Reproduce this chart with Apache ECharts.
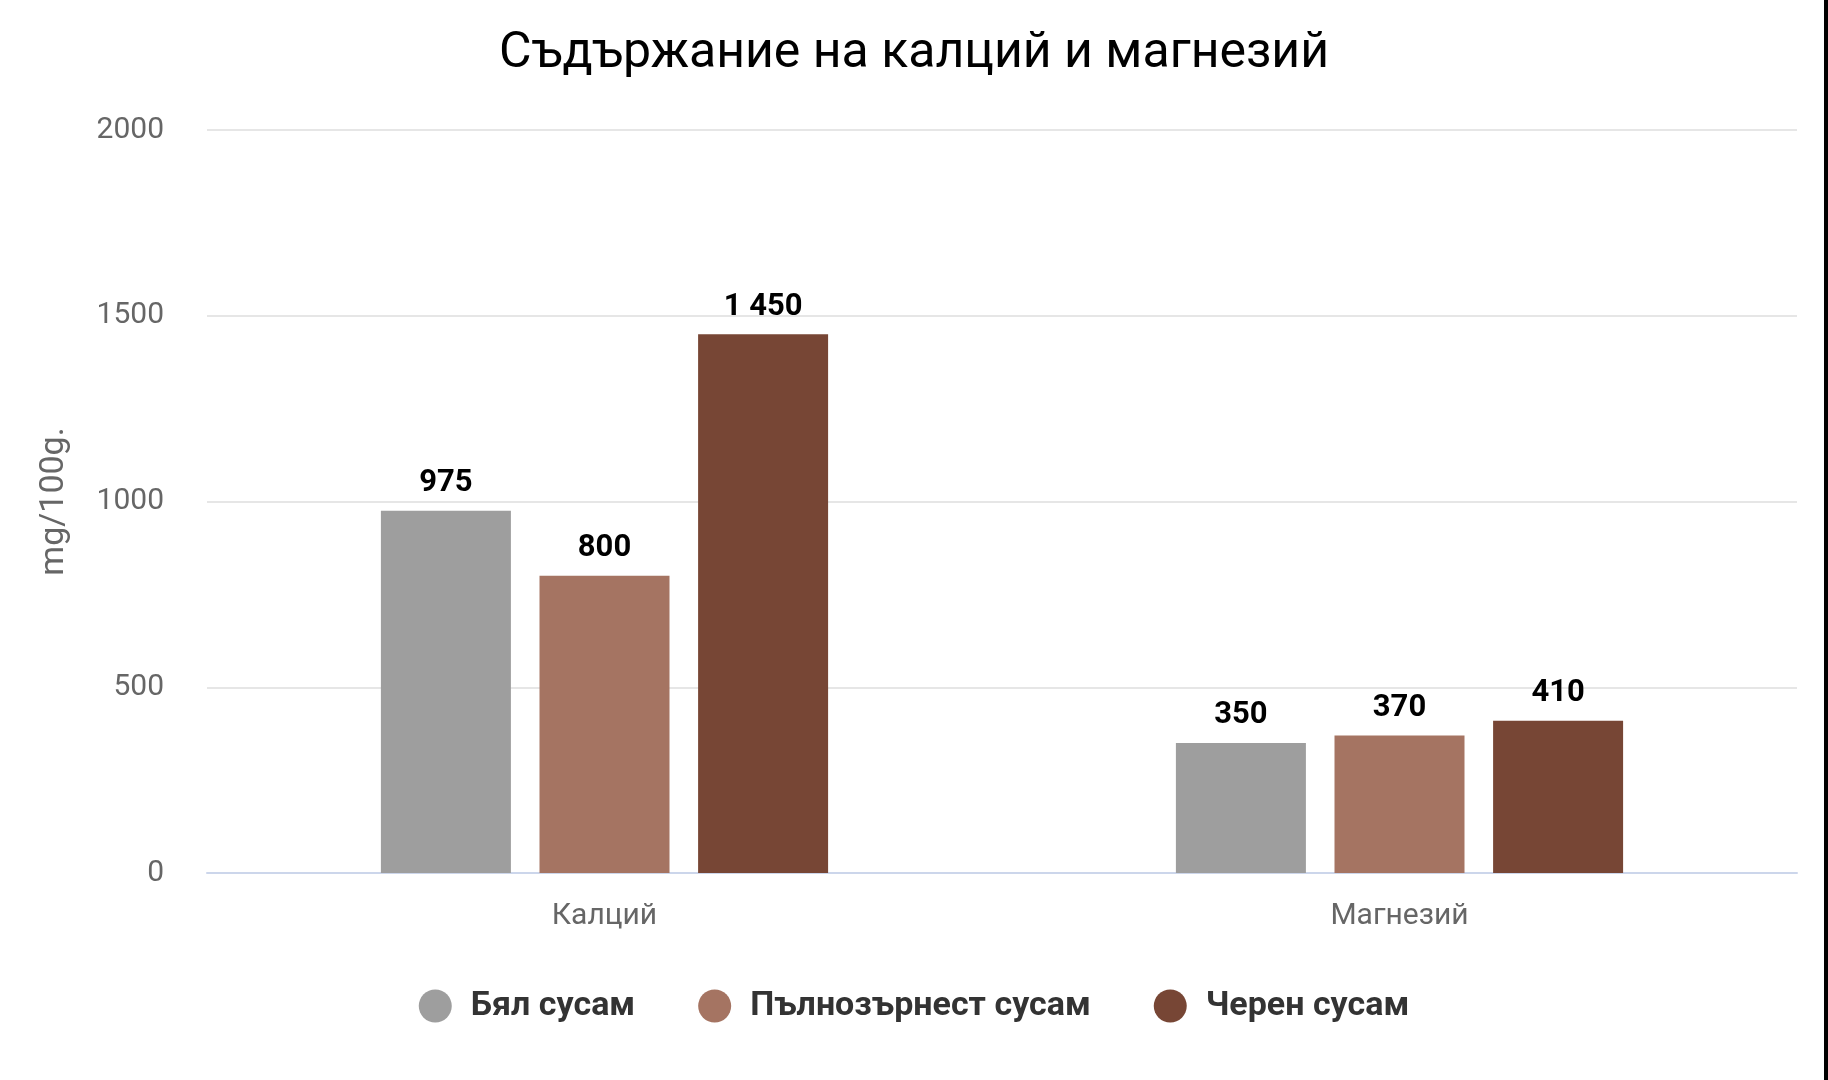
<!DOCTYPE html>
<html>
<head>
<meta charset="utf-8">
<script src="https://cdn.jsdelivr.net/npm/echarts@6/dist/echarts.min.js"></script>
<style>
    html, body { margin: 0; padding: 0; background: #ffffff; }
    #chart { width: 1828px; height: 1080px; }
</style>
</head>
<body>
<div id="chart"></div>
<script>
    // данни
    const categories = ['Калций', 'Магнезий'];
    const seriesNames = ['Бял сусам', 'Пълнозърнест сусам', 'Черен сусам'];
    const whiteSesame = [975, 350];
    const wholeSesame = [800, 370];
    const blackSesame = [1450, 410];
    const yTicks = [0, 500, 1000, 1500, 2000];
    const colors = ['#9e9e9e', '#a57462', '#774635'];

    const chart = echarts.init(document.getElementById('chart'));

    function fmt(v) {
        return String(v).replace(/\B(?=(\d{3})+(?!\d))/g, ' ');
    }

    const values = [whiteSesame, wholeSesame, blackSesame];

    const option = {
        backgroundColor: '#ffffff',
        animation: false,
        title: {
            text: 'Съдържание на калций и магнезий',
            left: 'center',
            top: 24,
            textStyle: {
                fontFamily: 'Roboto',
                fontSize: 50,
                fontWeight: 'normal',
                color: '#000000'
            }
        },
        legend: {
            data: seriesNames,
            bottom: 52,
            left: 'center',
            icon: 'circle',
            itemWidth: 33,
            itemHeight: 33,
            itemGap: 63,
            textStyle: {
                fontFamily: 'Roboto',
                fontSize: 34,
                fontWeight: 'bold',
                color: '#333333',
                padding: [0, 0, 0, 14]
            }
        },
        grid: {
            left: 207,
            right: 31,
            top: 130,
            bottom: 207,
            containLabel: false
        },
        xAxis: {
            type: 'category',
            data: categories,
            axisTick: { show: false },
            axisLine: { lineStyle: { color: '#ccd6eb', width: 2 } },
            axisLabel: {
                margin: 28,
                fontFamily: 'Roboto',
                fontSize: 30,
                color: '#666666'
            }
        },
        yAxis: {
            type: 'value',
            min: yTicks[0],
            max: yTicks[yTicks.length - 1],
            interval: 500,
            name: 'mg/100g.',
            nameLocation: 'middle',
            nameGap: 136,
            nameTextStyle: {
                fontFamily: 'Roboto',
                fontSize: 34,
                color: '#666666'
            },
            axisLabel: {
                margin: 43,
                fontFamily: 'Roboto',
                fontSize: 30,
                color: '#666666',
                formatter: v => String(v)
            },
            splitLine: { lineStyle: { color: '#e6e6e6', width: 2 } }
        },
        series: seriesNames.map((name, i) => ({
            name: name,
            type: 'bar',
            data: values[i],
            barWidth: 130,
            barGap: '22%',
            itemStyle: { color: colors[i] },
            label: {
                show: true,
                position: 'top',
                distance: 12,
                fontFamily: 'Roboto',
                fontSize: 31,
                fontWeight: 'bold',
                color: '#000000',
                formatter: p => fmt(p.value)
            }
        })),
        graphic: [{
            type: 'rect',
            right: 0,
            top: 0,
            shape: { width: 4, height: 1080 },
            style: { fill: '#000000' }
        }]
    };

    chart.setOption(option);
    window.addEventListener('resize', chart.resize);
</script>
</body>
</html>
